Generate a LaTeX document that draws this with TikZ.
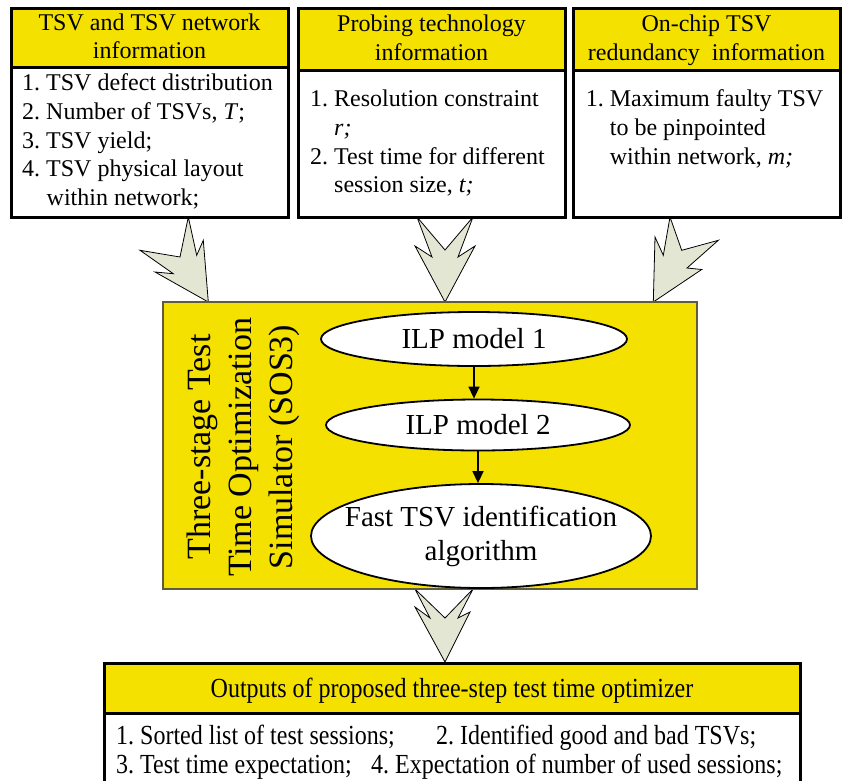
\documentclass[tikz,border=0pt]{standalone}
\usepackage{fontspec}
\setmainfont{Liberation Serif}
\usetikzlibrary{shapes.geometric,arrows.meta}
\definecolor{hy}{RGB}{245,225,0}
\definecolor{af}{RGB}{228,230,212}
\definecolor{mb}{RGB}{95,92,60}
\frenchspacing
\begin{document}
\begin{tikzpicture}[x=1pt,y=-1pt,
  fat/.style={fill=af,draw=black,line width=0.8pt,line join=miter},
  hbox/.style={draw=black,fill=hy,line width=3pt,inner sep=0},
  bbox/.style={draw=black,fill=white,line width=3pt,inner sep=0},
  tx/.style={font=\fontsize{24}{28.7}\selectfont,inner sep=0,anchor=base west},
  txc/.style={font=\fontsize{24}{28.7}\selectfont,inner sep=0,anchor=base},
  vt/.style={font=\fontsize{34}{41}\selectfont,inner sep=0,anchor=base,rotate=90},
  ell/.style={ellipse,draw=black,fill=white,line width=1.8pt,inner sep=0,
    font=\fontsize{29}{34}\selectfont,align=center},
  etx/.style={inner sep=0,font=\fontsize{29}{34}\selectfont,align=center},
  link/.style={line width=1.5pt,-{Triangle[length=12pt,width=11pt]}}]
\useasboundingbox (0,0) rectangle (843,780);

% fat arrows
\draw[fat] (188.3,217) -- (196.7,255.3) -- (203.3,240.3) -- (208.3,302) -- (155,272) -- (173.3,273.7) -- (140,250.3) -- (180,257) -- cycle;
\draw[fat] (417,217) -- (445,250) -- (473,217) -- (458,257) -- (475,246) -- (445,302) -- (415,246) -- (432,257) -- cycle;
\draw[fat] (670,217) -- (663.3,255.3) -- (655,237) -- (653.3,302) -- (701.7,269.5) -- (687,268) -- (718.3,240.3) -- (681.7,250.3) -- cycle;
\draw[fat] (415,589) -- (445,618) -- (473,589) -- (458,618) -- (470,612) -- (445,662) -- (415,607) -- (430,618) -- cycle;

% box 1
\node[bbox,minimum width=277,minimum height=150] (b1) at (149.5,142) {};
\node[hbox,minimum width=277,minimum height=59] (h1) at (149.5,37.5) {};
\node[txc] (h1a) at (149.5,30) {TSV and TSV network};
\node[txc] (h1b) at (149.5,58.5) {information};
\node[tx] (t1a) at (22,90) {1. TSV defect distribution};
\node[tx] (t1b) at (22,119) {2. Number of TSVs, \textit{T};};
\node[tx] (t1c) at (22,148) {3. TSV yield;};
\node[tx] (t1d) at (22,176.7) {4. TSV physical layout};
\node[tx] (t1e) at (46.5,205.3) {within network;};

% box 2
\node[bbox,minimum width=267,minimum height=147] (b2) at (431.5,143.5) {};
\node[hbox,minimum width=267,minimum height=62] (h2) at (431.5,39) {};
\node[txc] (h2a) at (431.5,31.5) {Probing technology};
\node[txc] (h2b) at (431.5,60) {information};
\node[tx] (t2a) at (310,106.7) {1. Resolution constraint};
\node[tx] (t2b) at (334,135.4) {\textit{r;}};
\node[tx] (t2c) at (310,164) {2. Test time for different};
\node[tx] (t2d) at (334,192.7) {session size, \textit{t;}};

% box 3
\node[bbox,minimum width=267,minimum height=147] (b3) at (706.5,143.5) {};
\node[hbox,minimum width=267,minimum height=62] (h3) at (706.5,39) {};
\node[txc] (h3a) at (706.5,31.5) {On-chip TSV};
\node[txc] (h3b) at (706.5,60) {redundancy\ \ information};
\node[tx] (t3a) at (585.7,106.7) {1. Maximum faulty TSV};
\node[tx] (t3b) at (609.7,135.4) {to be pinpointed};
\node[tx] (t3c) at (609.7,164) {within network, \textit{m;}};

% main box
\node[draw=mb,fill=hy,line width=1.5pt,inner sep=0,minimum width=534,minimum height=287] (main) at (430,445.5) {};
\node[vt] (v1) at (210,447) {Three-stage Test};
\node[vt] (v2) at (251,447) {Time Optimization};
\node[vt] (v3) at (292,447) {Simulator (SOS3)};

\node[ell,minimum width=306,minimum height=54] (e1) at (474,339) {};
\node[etx] (e1t) at (e1.center) {ILP model 1};
\node[ell,minimum width=304,minimum height=51] (e2) at (478,425) {};
\node[etx] (e2t) at (e2.center) {ILP model 2};
\node[ell,minimum width=340,minimum height=104] (e3) at (481,536) {};
\node[etx] (e3t) at (e3.center) {Fast TSV identification\\algorithm};
\draw[link] (e1.south) -- (e1.south |- e2.north);
\draw[link] (e2.south) -- (e2.south |- e3.north);

% bottom box
\node[bbox,minimum width=696,minimum height=87] (b4) at (452,756.5) {};
\node[hbox,minimum width=696,minimum height=50] (h4) at (452,688) {};
\node[txc] (h4a) at (452,697) {\scalebox{1}[1.15]{Outputs of proposed three-step test time optimizer}};
\node[tx] (t4a) at (116,744) {\scalebox{1}[1.15]{1. Sorted list of test sessions;}};
\node[tx] (t4b) at (436,744) {\scalebox{1}[1.15]{2. Identified good and bad TSVs;}};
\node[tx] (t4c) at (116,773) {\scalebox{1}[1.15]{3. Test time expectation;}};
\node[tx] (t4d) at (371,773) {\scalebox{1}[1.15]{4. Expectation of number of used sessions;}};
\end{tikzpicture}
\end{document}
